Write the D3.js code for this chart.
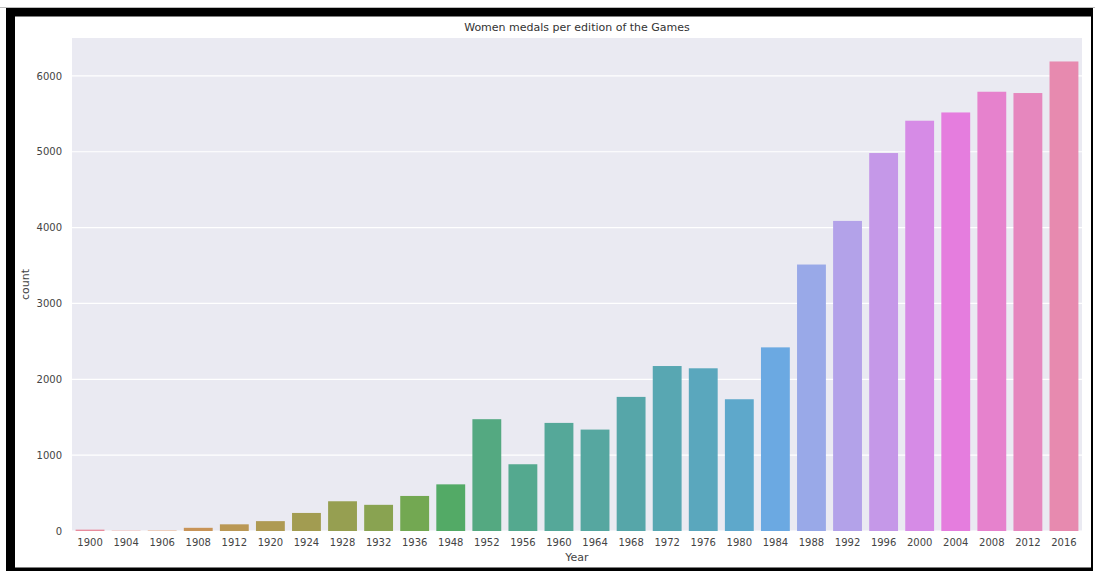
<!DOCTYPE html>
<html>
<head>
<meta charset="utf-8">
<script src="https://cdn.jsdelivr.net/npm/d3@7"></script>
<style>
  html, body { margin: 0; padding: 0; background: #fff; }
  svg { display: block; font-family: "DejaVu Sans", sans-serif; }
</style>
</head>
<body>
<svg id="chart" width="1095" height="571"></svg>
<script>
// ---- data ----
const years = ["1900","1904","1906","1908","1912","1920","1924","1928","1932","1936","1948",
  "1952","1956","1960","1964","1968","1972","1976","1980","1984","1988","1992","1996",
  "2000","2004","2008","2012","2016"];
const counts = [18, 4, 5, 42, 88, 130, 238, 392, 345, 462, 615,
  1474, 880, 1425, 1337, 1768, 2175, 2145, 1737, 2421, 3513, 4088, 4983,
  5409, 5518, 5791, 5774, 6190];
const yTicks = [0, 1000, 2000, 3000, 4000, 5000, 6000];
const title = "Women medals per edition of the Games";
const xLabel = "Year";
const yLabel = "count";

// ---- seaborn husl palette ----
const M = [[3.2406, -1.5372, -0.4986], [-0.9689, 1.8758, 0.0415], [0.0557, -0.2040, 1.0570]];
const refU = 0.19784, refV = 0.46834, labE = 0.008856, labK = 903.3;
function maxChroma(L, H) {
  const hr = H * Math.PI / 180, sinH = Math.sin(hr), cosH = Math.cos(hr);
  const sub1 = Math.pow(L + 16, 3) / 1560896.0;
  const sub2 = sub1 > labE ? sub1 : L / labK;
  let res = Infinity;
  for (const [m1, m2, m3] of M) {
    const top = (0.99915 * m1 + 1.05122 * m2 + 1.14460 * m3) * sub2;
    const rb = 0.86330 * m3 - 0.17266 * m2;
    const lb = 0.12949 * m3 - 0.38848 * m1;
    const bottom = (rb * sinH + lb * cosH) * sub2;
    for (const t of [0, 1]) {
      const C = L * (top - 1.05122 * t) / (bottom + 0.17266 * sinH * t);
      if (C > 0 && C < res) res = C;
    }
  }
  return res;
}
function fInv(t) { return Math.pow(t, 3) > labE ? Math.pow(t, 3) : (116 * t - 16) / labK; }
function fromLinear(c) { return c <= 0.0031308 ? 12.92 * c : 1.055 * Math.pow(c, 1 / 2.4) - 0.055; }
function huslToRgb(H, S, L) {
  const C = maxChroma(L, H) / 100 * S;
  const hr = H * Math.PI / 180;
  const U = Math.cos(hr) * C, V = Math.sin(hr) * C;
  const Y = fInv((L + 16) / 116);
  const vU = U / (13 * L) + refU, vV = V / (13 * L) + refV;
  const X = 0 - (9 * Y * vU) / ((vU - 4) * vV - vU * vV);
  const Z = (9 * Y - 15 * vV * Y - vV * X) / (3 * vV);
  return M.map(r => Math.min(1, Math.max(0, fromLinear(r[0] * X + r[1] * Y + r[2] * Z))));
}
function huslPalette(n, h = 0.01, s = 0.9, l = 0.65) {
  const out = [];
  for (let i = 0; i < n; i++) {
    let hue = (i / n + h) % 1;
    const rgb = huslToRgb(hue * 359, s * 99, l * 99);
    const c = d3.hsl(d3.rgb(rgb[0] * 255, rgb[1] * 255, rgb[2] * 255));
    c.s *= 0.75; // seaborn bar desaturation
    // the reference photo is slightly washed out
    out.push(d3.interpolateRgb(c.formatHex(), "#ffffff")(0.09));
  }
  return out;
}
const colors = huslPalette(years.length);

// ---- layout ----
const svg = d3.select("#chart");
const plot = { left: 72, right: 1082, top: 38, bottom: 531 };

// screenshot frame
svg.append("rect").attr("x", 0).attr("y", 7).attr("width", 1095).attr("height", 1).attr("fill", "#bbb");
svg.append("rect").attr("x", 6).attr("y", 8).attr("width", 1087).attr("height", 8.5).attr("fill", "#000");
svg.append("rect").attr("x", 6).attr("y", 8).attr("width", 9).attr("height", 563).attr("fill", "#000");
svg.append("rect").attr("x", 1091).attr("y", 8).attr("width", 2).attr("height", 563).attr("fill", "#000");
svg.append("rect").attr("x", 6).attr("y", 567.5).attr("width", 1087).attr("height", 3.5).attr("fill", "#000");

const x = d3.scaleBand().domain(years).range([plot.left, plot.right]).paddingInner(0.2).paddingOuter(0.1);
const y = d3.scaleLinear().domain([0, d3.max(counts) * 1.05]).range([plot.bottom, plot.top]);

svg.append("rect").attr("x", plot.left).attr("y", plot.top)
  .attr("width", plot.right - plot.left).attr("height", plot.bottom - plot.top).attr("fill", "#eaeaf2");

// grid
svg.append("g").selectAll("line").data(yTicks).join("line")
  .attr("x1", plot.left).attr("x2", plot.right)
  .attr("y1", d => y(d)).attr("y2", d => y(d))
  .attr("stroke", "#fff").attr("stroke-width", 1.2);

// bars
svg.append("g").selectAll("rect").data(years).join("rect")
  .attr("x", d => x(d)).attr("width", x.bandwidth())
  .attr("y", (d, i) => y(counts[i])).attr("height", (d, i) => y(0) - y(counts[i]))
  .attr("fill", (d, i) => colors[i]);

// axes
const yAxis = svg.append("g").attr("transform", `translate(${plot.left},0)`)
  .call(d3.axisLeft(y).tickValues(yTicks).tickSize(0).tickPadding(10).tickFormat(d3.format("d")));
yAxis.select(".domain").remove();
yAxis.selectAll("text").attr("font-size", 10).attr("fill", "#444").attr("font-family", "DejaVu Sans");

const xAxis = svg.append("g").attr("transform", `translate(0,${plot.bottom})`)
  .call(d3.axisBottom(x).tickSize(0).tickPadding(8));
xAxis.select(".domain").remove();
xAxis.selectAll("text").attr("font-size", 10).attr("fill", "#444").attr("font-family", "DejaVu Sans");

// labels
svg.append("text").attr("x", (plot.left + plot.right) / 2).attr("y", 31)
  .attr("text-anchor", "middle").attr("font-size", 11).attr("fill", "#333").text(title);
svg.append("text").attr("x", (plot.left + plot.right) / 2).attr("y", 561)
  .attr("text-anchor", "middle").attr("font-size", 11).attr("fill", "#444").text(xLabel);
svg.append("text").attr("transform", `translate(29,${(plot.top + plot.bottom) / 2}) rotate(-90)`)
  .attr("text-anchor", "middle").attr("font-size", 11).attr("fill", "#444").text(yLabel);
</script>
</body>
</html>
